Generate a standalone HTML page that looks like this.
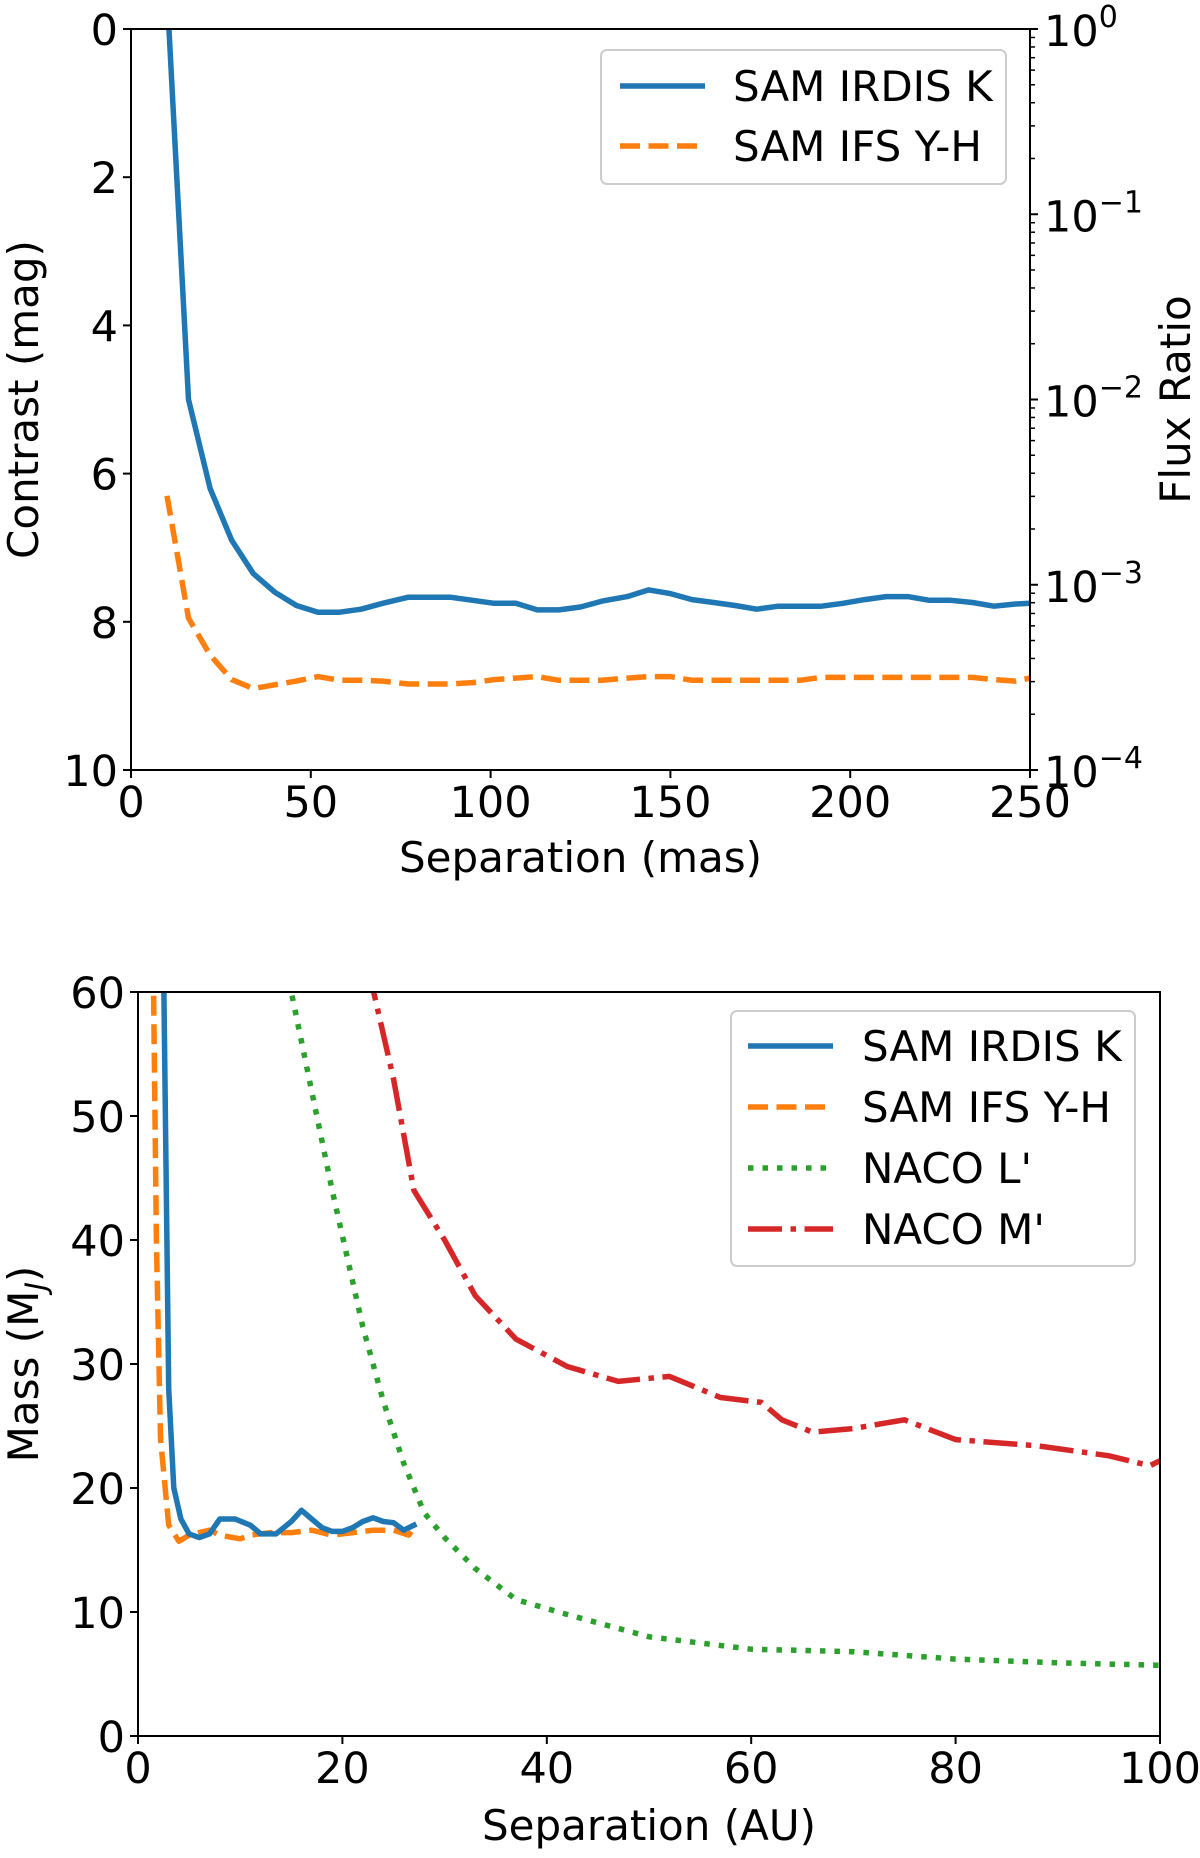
<!DOCTYPE html>
<html><head><meta charset="utf-8"><style>
html,body{margin:0;padding:0;background:#fff}
svg text{font-family:"DejaVu Sans","Liberation Sans",sans-serif;fill:#000}
</style></head><body>
<svg id="fig" width="1200" height="1853" xmlns="http://www.w3.org/2000/svg"></svg>
<script>
// ---- Top chart data ----
const topSepMas = [10,16,22,28,34,40,46,52,58,64,70,77,83,89,95,101,107,113,119,125,131,138,144,150,156,162,168,174,180,186,192,198,204,210,216,222,228,234,240,246,250];
const topIrdisMag = [-0.5,5.0,6.2,6.9,7.35,7.6,7.78,7.87,7.87,7.83,7.75,7.67,7.67,7.67,7.71,7.75,7.75,7.84,7.84,7.8,7.72,7.66,7.57,7.62,7.7,7.74,7.78,7.83,7.79,7.79,7.79,7.75,7.7,7.66,7.66,7.71,7.71,7.74,7.79,7.76,7.75];
const topIfsSep = [10,16,22,28,34,40,46,52,58,64,70,77,83,89,95,101,107,113,119,125,131,138,144,150,156,162,168,174,180,186,192,198,204,210,216,222,228,234,240,246,250];
const topIfsMag = [6.3,7.95,8.45,8.78,8.9,8.85,8.8,8.74,8.79,8.79,8.8,8.84,8.84,8.84,8.82,8.78,8.76,8.74,8.79,8.79,8.79,8.76,8.74,8.74,8.79,8.79,8.79,8.79,8.79,8.79,8.75,8.75,8.75,8.75,8.75,8.75,8.75,8.75,8.78,8.8,8.76];
const topXTicks = [0,50,100,150,200,250];
const topYTicks = [0,2,4,6,8,10];
const topFluxExp = [0,-1,-2,-3,-4];
// ---- Bottom chart data ----
const botIrdisSep = [2.5,3,3.5,4.2,5,6,7,8,9.5,11,12,13.5,15,16,17,18,19,20,21,22,23,24,25,26,27];
const botIrdisMass = [62,28,20,17.5,16.3,16,16.3,17.5,17.5,17,16.3,16.3,17.3,18.2,17.5,16.8,16.5,16.5,16.8,17.3,17.6,17.3,17.2,16.6,17];
const botIfsSep = [1.5,1.8,2.2,3,4,5,6,7,8,10,11,13,15,17,19,21,23,25,26.5,27];
const botIfsMass = [62,40,24,17,15.7,16.2,16.4,16.6,16.2,15.9,16.2,16.4,16.4,16.6,16.2,16.4,16.6,16.6,16.2,16.8];
const botLSep = [14.5,17,19,22,24,26,28,30,33,37,42,50,60,70,80,90,100];
const botLMass = [62,52,44,33,27,22,18,16,13.5,11,9.8,8,7,6.8,6.2,5.9,5.7];
const botMSep = [22.5,25,27,30,33,37,42,47,52,57,61,63,66,70,75,80,88,95,99,100];
const botMMass = [62,53,44,40,35.5,32,29.8,28.6,29,27.3,26.9,25.5,24.5,24.8,25.5,23.9,23.4,22.6,21.8,22.2];
const botXTicks = [0,20,40,60,80,100];
const botYTicks = [0,10,20,30,40,50,60];

const NS="http://www.w3.org/2000/svg";
const svg=document.getElementById('fig');
function mk(tag,attrs,parent){const e=document.createElementNS(NS,tag);for(const k in attrs)e.setAttribute(k,attrs[k]);(parent||svg).appendChild(e);return e;}

const BLUE='#1f77b4',ORANGE='#ff7f0e',GREEN='#2ca02c',RED='#d62728';
const LW=5.5;
const DASH='20,8.5', DOT='5.5,9', DASHDOT='34,8.5,5.5,8.5';
const FT=43, FL=42;

const T={l:131,r:1030,t:29,b:770,x0:0,x1:250,y0:0,y1:10};
const tx=v=>T.l+(v-T.x0)/(T.x1-T.x0)*(T.r-T.l);
const ty=v=>T.t+(v-T.y0)/(T.y1-T.y0)*(T.b-T.t);
const tyLog=f=>T.t+(-Math.log10(f))/4*(T.b-T.t);

const B={l:138,r:1160,t:992,b:1736,x0:0,x1:100,y0:0,y1:60};
const bx=v=>B.l+(v-B.x0)/(B.x1-B.x0)*(B.r-B.l);
const by=v=>B.b-(v-B.y0)/(B.y1-B.y0)*(B.b-B.t);

const ct=mk('clipPath',{id:'clipTop'});
mk('rect',{x:T.l,y:T.t,width:T.r-T.l,height:T.b-T.t},ct);
const cb=mk('clipPath',{id:'clipBot'});
mk('rect',{x:B.l,y:B.t,width:B.r-B.l,height:B.b-B.t},cb);

function line(xs,ys,fx,fy,color,dash,clip,name){
  const pts=xs.map((x,i)=>fx(x).toFixed(1)+','+fy(ys[i]).toFixed(1)).join(' ');
  const p=mk('polyline',{points:pts,fill:'none',stroke:color,'stroke-width':LW,'stroke-linejoin':'round','stroke-linecap':dash?'butt':'square','clip-path':'url(#'+clip+')'});
  if(dash)p.setAttribute('stroke-dasharray',dash);
  
  
  return p;
}

// ---- Top chart ----
line(topSepMas,topIrdisMag,tx,ty,BLUE,null,'clipTop','top-irdis-line');
line(topIfsSep,topIfsMag,tx,ty,ORANGE,DASH,'clipTop','top-ifs-line');
let fr=mk('rect',{x:T.l,y:T.t,width:T.r-T.l,height:T.b-T.t,fill:'none',stroke:'#000','stroke-width':2});

topXTicks.forEach(v=>{
  mk('line',{x1:tx(v),x2:tx(v),y1:T.b,y2:T.b+8,stroke:'#000','stroke-width':2});
  const t=mk('text',{x:tx(v),y:T.b+47,'font-size':FT,'text-anchor':'middle'});t.textContent=v;
  
});
topYTicks.forEach(v=>{
  mk('line',{x1:T.l-8,x2:T.l,y1:ty(v),y2:ty(v),stroke:'#000','stroke-width':2});
  const t=mk('text',{x:T.l-13,y:ty(v)+16,'font-size':FT,'text-anchor':'end'});t.textContent=v;
  
});
topFluxExp.forEach(e=>{
  const y=tyLog(Math.pow(10,e));
  mk('line',{x1:T.r,x2:T.r+8,y1:y,y2:y,stroke:'#000','stroke-width':2});
  if(e>-4){for(let m=2;m<=9;m++){const ym=tyLog(m*Math.pow(10,e-1));mk('line',{x1:T.r,x2:T.r+5,y1:ym,y2:ym,stroke:'#000','stroke-width':1.5});}}
  const t=mk('text',{x:T.r+14,y:y+17,'font-size':FT});
  
  t.textContent='10';
  const s=document.createElementNS(NS,'tspan');s.setAttribute('dy',-19);s.setAttribute('font-size',30);s.textContent=e===0?'0':'\u2212'+(-e);t.appendChild(s);
});
let t1=mk('text',{x:(T.l+T.r)/2,y:872,'font-size':FL,'text-anchor':'middle'});t1.textContent='Separation (mas)';

let t2=mk('text',{x:0,y:0,'font-size':FL,'text-anchor':'middle',transform:'translate(38,'+((T.t+T.b)/2)+') rotate(-90)'});t2.textContent='Contrast (mag)';

let t3=mk('text',{x:0,y:0,'font-size':FL,'text-anchor':'middle',transform:'translate(1190,'+((T.t+T.b)/2)+') rotate(-90)'});t3.textContent='Flux Ratio';

const tl=mk('g',{});
mk('rect',{x:601,y:50,width:405,height:134,rx:6,fill:'#fff',stroke:'#ccc','stroke-width':2},tl);
mk('line',{x1:620,x2:705,y1:86,y2:86,stroke:BLUE,'stroke-width':LW},tl);
mk('line',{x1:620,x2:705,y1:146,y2:146,stroke:ORANGE,'stroke-width':LW,'stroke-dasharray':DASH},tl);
let l1=mk('text',{x:733,y:101,'font-size':FL},tl);l1.textContent='SAM IRDIS K';

let l2=mk('text',{x:733,y:161,'font-size':FL},tl);l2.textContent='SAM IFS Y-H';


// ---- Bottom chart ----
line(botLSep,botLMass,bx,by,GREEN,DOT,'clipBot','bot-naco-l-line');
line(botMSep,botMMass,bx,by,RED,DASHDOT,'clipBot','bot-naco-m-line');
line(botIfsSep,botIfsMass,bx,by,ORANGE,DASH,'clipBot','bot-ifs-line');
line(botIrdisSep,botIrdisMass,bx,by,BLUE,null,'clipBot','bot-irdis-line');
fr=mk('rect',{x:B.l,y:B.t,width:B.r-B.l,height:B.b-B.t,fill:'none',stroke:'#000','stroke-width':2});

botXTicks.forEach(v=>{
  mk('line',{x1:bx(v),x2:bx(v),y1:B.b,y2:B.b+8,stroke:'#000','stroke-width':2});
  const t=mk('text',{x:bx(v),y:B.b+47,'font-size':FT,'text-anchor':'middle'});t.textContent=v;
  
});
botYTicks.forEach(v=>{
  mk('line',{x1:B.l-8,x2:B.l,y1:by(v),y2:by(v),stroke:'#000','stroke-width':2});
  const t=mk('text',{x:B.l-13,y:by(v)+16,'font-size':FT,'text-anchor':'end'});t.textContent=v;
  
});
let b1=mk('text',{x:(B.l+B.r)/2,y:1840,'font-size':FL,'text-anchor':'middle'});b1.textContent='Separation (AU)';

let b2=mk('text',{x:0,y:0,'font-size':FL,'text-anchor':'middle',transform:'translate(38,'+((B.t+B.b)/2)+') rotate(-90)'});

b2.textContent='Mass (M';
const sub=document.createElementNS(NS,'tspan');sub.setAttribute('font-size',29);sub.setAttribute('dy',8);sub.setAttribute('font-style','italic');sub.textContent='J';b2.appendChild(sub);
const cl=document.createElementNS(NS,'tspan');cl.setAttribute('dy',-8);cl.textContent=')';b2.appendChild(cl);
const bl=mk('g',{});
mk('rect',{x:731,y:1011,width:404,height:255,rx:6,fill:'#fff',stroke:'#ccc','stroke-width':2},bl);
const legY=[1046,1107,1168,1229];
const legC=[BLUE,ORANGE,GREEN,RED];
const legD=[null,DASH,DOT,DASHDOT];
const legT=['SAM IRDIS K','SAM IFS Y-H',"NACO L'","NACO M'"];
legY.forEach((y,i)=>{
  const ln=mk('line',{x1:748,x2:833,y1:y,y2:y,stroke:legC[i],'stroke-width':LW},bl);
  if(legD[i])ln.setAttribute('stroke-dasharray',legD[i]);
  const t=mk('text',{x:862,y:y+15,'font-size':FL},bl);t.textContent=legT[i];
  
});
</script>
</body></html>
